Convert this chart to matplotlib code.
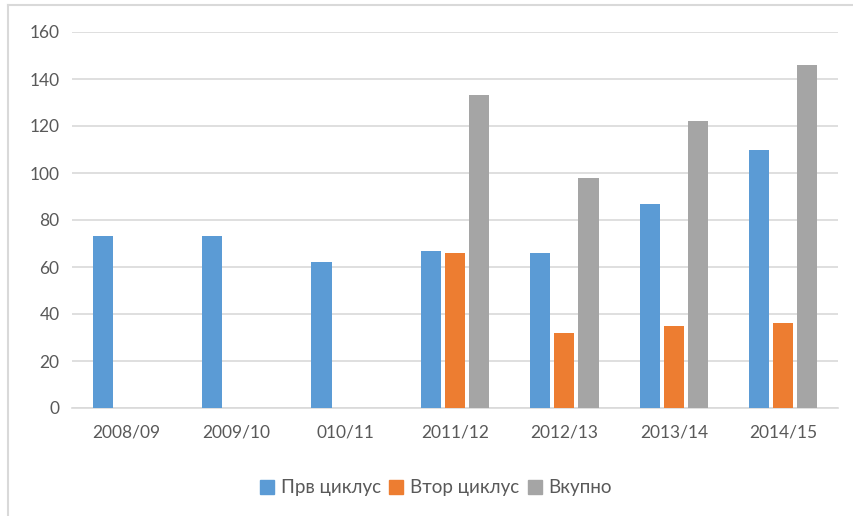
import matplotlib.pyplot as plt
import numpy as np
from matplotlib.lines import Line2D

# data
years = ['2008/09', '2009/10', '010/11', '2011/12', '2012/13', '2013/14', '2014/15']
prv = [73, 73, 62, 67, 66, 87, 110]
vtor = [0, 0, 0, 66, 32, 35, 36]
vkupno = [0, 0, 0, 133, 98, 122, 146]
names = ['Прв циклус', 'Втор циклус', 'Вкупно']
colors = ['#5b9bd5', '#ed7d31', '#a5a5a5']

plt.rcParams['font.family'] = ['Lato', 'DejaVu Sans']
txt = '#595959'
grid = '#d9d9d9'

fig = plt.figure(figsize=(8.54, 5.16), dpi=100)
ax = fig.add_axes([72 / 854, 1 - 408 / 516, (838 - 72) / 854, (408 - 32) / 516])

x = np.arange(len(years))
w = 0.183
off = 0.22
for i, vals in enumerate([prv, vtor, vkupno]):
    ax.bar(x + (i - 1) * off, vals, w, color=colors[i], label=names[i], zorder=3)

ax.set_xlim(-0.5, len(years) - 0.5)
ax.set_ylim(0, 160)
ax.set_yticks(range(0, 161, 20))
ax.set_xticks(x)
ax.set_xticklabels(years)
ax.yaxis.grid(True, color=grid, linewidth=1.2, zorder=0)
for s in ['top', 'right', 'left']:
    ax.spines[s].set_visible(False)
ax.spines['bottom'].set_color(grid)
ax.spines['bottom'].set_linewidth(1.2)
ax.tick_params(axis='both', length=0, labelsize=12.5, colors=txt, pad=9)
ax.tick_params(axis='x', pad=12)

handles = [Line2D([], [], marker='s', linestyle='', markersize=10.5, color=c) for c in colors]
fig.legend(handles, names, loc='center', bbox_to_anchor=(435 / 854, 1 - 488 / 516),
           ncol=3, frameon=False, fontsize=13.5, labelcolor=txt,
           handletextpad=0.25, columnspacing=0.3, handlelength=1.0)

# chart border
fig.add_artist(Line2D([8 / 854, 8 / 854], [0, 1 - 5 / 516], color=grid, linewidth=1.5))
fig.add_artist(Line2D([8 / 854, 1], [1 - 5 / 516, 1 - 5 / 516], color=grid, linewidth=1.5))

fig.savefig('out.png', dpi=100)
